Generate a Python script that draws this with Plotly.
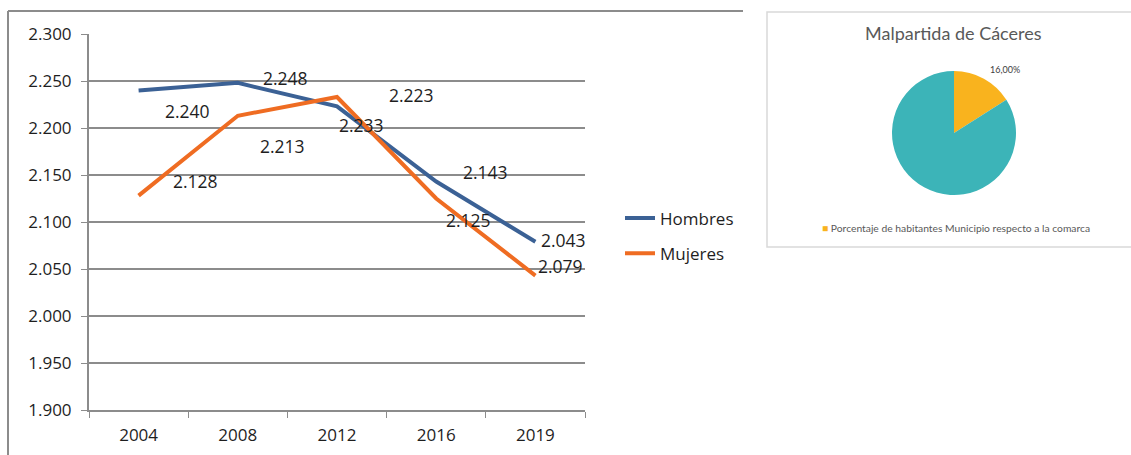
import plotly.graph_objects as go

# Población por sexo (valores absolutos)
years = ["2004", "2008", "2012", "2016", "2019"]
hombres = [2240, 2248, 2223, 2143, 2079]
mujeres = [2128, 2213, 2233, 2125, 2043]
# etiquetas tal como aparecen en el gráfico original
hombres_labels = ["2.240", "2.248", "2.223", "2.143", "2.043"]
mujeres_labels = ["2.128", "2.213", "2.233", "2.125", "2.079"]
y_ticks = [1900, 1950, 2000, 2050, 2100, 2150, 2200, 2250, 2300]

# Tarta de la derecha
pie_labels = ["Porcentaje de habitantes Municipio respecto a la comarca", "Resto de la comarca"]
pie_values = [16.0, 84.0]
pie_title = "Malpartida de Cáceres"

W, H = 1131, 455
BLUE = "#3B6195"
ORANGE = "#EF6C22"
GRID = "#8C8C8C"
FONT = "Open Sans"

# desplazamientos de las etiquetas (px) respecto a cada punto
h_shift = [(49, -21), (48, 5), (74, 11), (49, 10), (28, 2)]
m_shift = [(57, 15), (45, -30), (24, -28), (32, -22), (25, 10)]

fig = go.Figure()

fig.add_trace(go.Scatter(
    x=years, y=hombres, name="Hombres", mode="lines",
    line=dict(color=BLUE, width=4), legendgroup="h",
))
fig.add_trace(go.Scatter(
    x=years, y=mujeres, name="Mujeres", mode="lines",
    line=dict(color=ORANGE, width=4), legendgroup="m",
))

# etiquetas de datos (x por índice de categoría)
for i, (v, t, (dx, dy)) in enumerate(zip(hombres, hombres_labels, h_shift)):
    fig.add_annotation(x=i, y=v, xref="x", yref="y", text=t, showarrow=False,
                       xshift=dx, yshift=dy, font=dict(family=FONT, size=17.5, color="#1e1e1e"))
for i, (v, t, (dx, dy)) in enumerate(zip(mujeres, mujeres_labels, m_shift)):
    fig.add_annotation(x=i, y=v, xref="x", yref="y", text=t, showarrow=False,
                       xshift=dx, yshift=dy, font=dict(family=FONT, size=17.5, color="#1e1e1e"))

fig.add_trace(go.Pie(
    labels=pie_labels, values=pie_values, sort=False, direction="clockwise",
    rotation=0, marker=dict(colors=["#F9B31E", "#3CB4B8"]),
    textinfo="none", showlegend=False, hoverinfo="label+percent",
    domain=dict(x=[892 / W, 1016 / W], y=[1 - 195 / H, 1 - 71 / H]),
))

# títulos / etiquetas de la tarta
fig.add_annotation(x=953 / W, y=1 - 33 / H, xref="paper", yref="paper", text=pie_title,
                   xanchor="center", yanchor="middle",
                   showarrow=False, font=dict(family="Lato", size=18, color="#595959"))
fig.add_annotation(x=1005 / W, y=1 - 69 / H, xref="paper", yref="paper",
                   text=f"{pie_values[0]:.2f}%".replace(".", ","),
                   xanchor="center", yanchor="middle",
                   showarrow=False, font=dict(family="Lato", size=9, color="#404040"))
fig.add_annotation(x=820 / W, y=1 - 228 / H, xref="paper", yref="paper",
                   xanchor="left", yanchor="middle",
                   text=f"<span style='color:#F9B31E'>■</span> {pie_labels[0]}",
                   showarrow=False, font=dict(family="Lato", size=10.3, color="#595959"))

# marcos
fig.add_shape(type="line", xref="paper", yref="paper", x0=8 / W, x1=743 / W,
              y0=1 - 11 / H, y1=1 - 11 / H, line=dict(color="#8C8C8C", width=2))
fig.add_shape(type="line", xref="paper", yref="paper", x0=8 / W, x1=8 / W,
              y0=0, y1=1 - 11 / H, line=dict(color="#8C8C8C", width=2))
fig.add_shape(type="rect", xref="paper", yref="paper", x0=767 / W, x1=1.01,
              y0=1 - 247 / H, y1=1 - 12 / H, line=dict(color="#D9D9D9", width=1.5))

fig.update_layout(
    width=W, height=H,
    margin=dict(l=0, r=0, t=0, b=0),
    paper_bgcolor="white", plot_bgcolor="white",
    separators=",.",
    font=dict(family=FONT, size=17, color="#1e1e1e"),
    xaxis=dict(
        domain=[89 / W, 585 / W], type="category", range=[-0.5, 4.5],
        tickson="boundaries", ticks="outside", ticklen=6, tickcolor=GRID,
        showline=True, linecolor=GRID, linewidth=2, showgrid=False,
        tickfont=dict(size=17), tickangle=0, ticklabelstandoff=9,
        automargin=False, fixedrange=True,
    ),
    yaxis=dict(
        domain=[1 - 410 / H, 1 - 34 / H], range=[1900, 2300], tickvals=y_ticks,
        tickformat=",d", ticks="outside", ticklen=6, tickcolor=GRID, showline=True,
        linecolor=GRID, linewidth=2, gridcolor=GRID, gridwidth=1.5,
        tickfont=dict(size=17), ticklabelstandoff=6, zeroline=False,
        automargin=False, fixedrange=True,
    ),
    legend=dict(
        x=620 / W, y=1 - 236 / H, xanchor="left", yanchor="middle",
        font=dict(family=FONT, size=17, color="#1e1e1e"), tracegroupgap=10,
        bgcolor="rgba(0,0,0,0)",
    ),
)

fig.write_html("out.html", config={"displayModeBar": False},
               post_script="document.body.style.margin='0';")
